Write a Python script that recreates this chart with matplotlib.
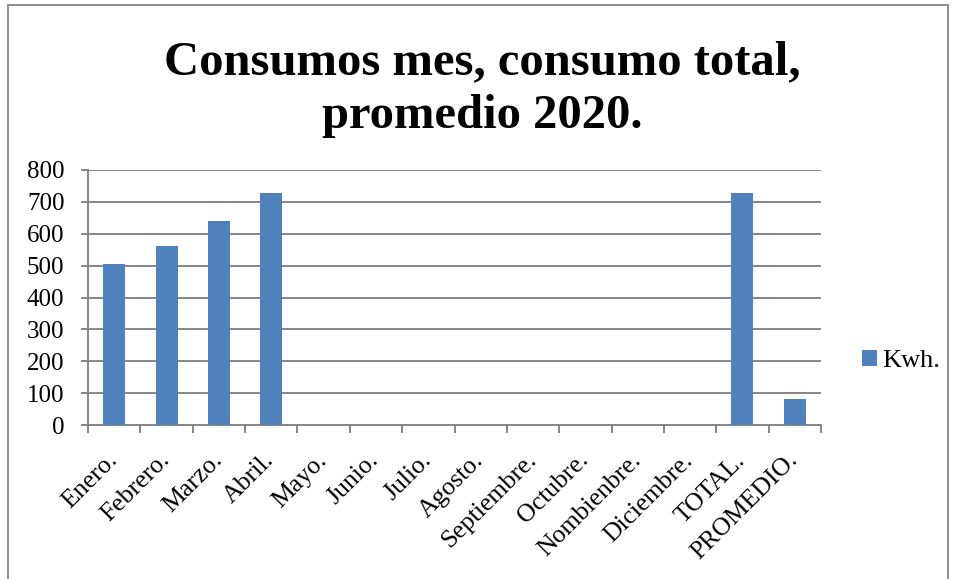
import matplotlib.pyplot as plt
from matplotlib.patches import Rectangle
from matplotlib.transforms import ScaledTranslation
import numpy as np

# Consumo mensual en Kwh.
meses = ["Enero.", "Febrero.", "Marzo.", "Abril.", "Mayo.", "Junio.", "Julio.",
         "Agosto.", "Septiembre.", "Octubre.", "Nombienbre.", "Diciembre.",
         "TOTAL.", "PROMEDIO."]
kwh = [506, 560, 640, 727, 0, 0, 0, 0, 0, 0, 0, 0, 727, 82]

plt.rcParams['font.family'] = ['Liberation Serif', 'DejaVu Serif']

W, H = 956, 579
fig = plt.figure(figsize=(W / 100, H / 100), dpi=100)
ax = fig.add_axes([88/W, 1 - 425/H, (821 - 88)/W, (425 - 170)/H])

gris = "#868686"
x = np.arange(len(meses))
ax.bar(x, kwh, width=0.42, color="#4f81bd", label="Kwh.", zorder=3)

ax.set_xlim(-0.5, len(meses) - 0.5)
ax.set_ylim(0, 800)
ax.set_yticks(np.arange(0, 801, 100))
ax.tick_params(axis='y', labelsize=18, length=5, color=gris, width=1.4, pad=12)

# marcas en los limites de cada categoria, etiquetas en el centro
ax.set_xticks(np.arange(-0.5, len(meses), 1))
ax.set_xticklabels([])
ax.tick_params(axis='x', which='major', length=5.8, color=gris, width=1.4)
ax.set_xticks(x, minor=True)
ax.set_xticklabels(meses, minor=True, rotation=45, ha='right', va='baseline',
                   rotation_mode='anchor')
ax.tick_params(axis='x', which='minor', length=0, labelsize=18.5, pad=26)
desplaza = ScaledTranslation(4/100, 0, fig.dpi_scale_trans)
for lab in ax.get_xticklabels(minor=True):
    lab.set_transform(lab.get_transform() + desplaza)

ax.grid(axis='y', color=gris, linewidth=1.4, zorder=0)
for s in ['top', 'right']:
    ax.spines[s].set_visible(False)
for s in ['left', 'bottom']:
    ax.spines[s].set_color(gris)
    ax.spines[s].set_linewidth(1.4)

# titulo en dos lineas
fig.text(0.5 + 4/W, 1 - 74/H, "Consumos mes, consumo total,", ha='center', va='baseline',
         fontsize=35, fontweight='bold')
fig.text(0.5 + 4/W, 1 - 128/H, "promedio 2020.", ha='center', va='baseline',
         fontsize=35, fontweight='bold')

fig.legend(loc='center left', bbox_to_anchor=(862/W, 1 - 361/H), frameon=False,
           fontsize=19, handlelength=0.55, handleheight=0.55, handletextpad=0.2,
           borderpad=0, borderaxespad=0)

# marco exterior del grafico
fig.patches.append(Rectangle((8/W, -0.01), 940/W, 1 - 5/H + 0.01, transform=fig.transFigure,
                             fill=False, edgecolor=gris, linewidth=1.3))

fig.savefig("out.png", dpi=100)
